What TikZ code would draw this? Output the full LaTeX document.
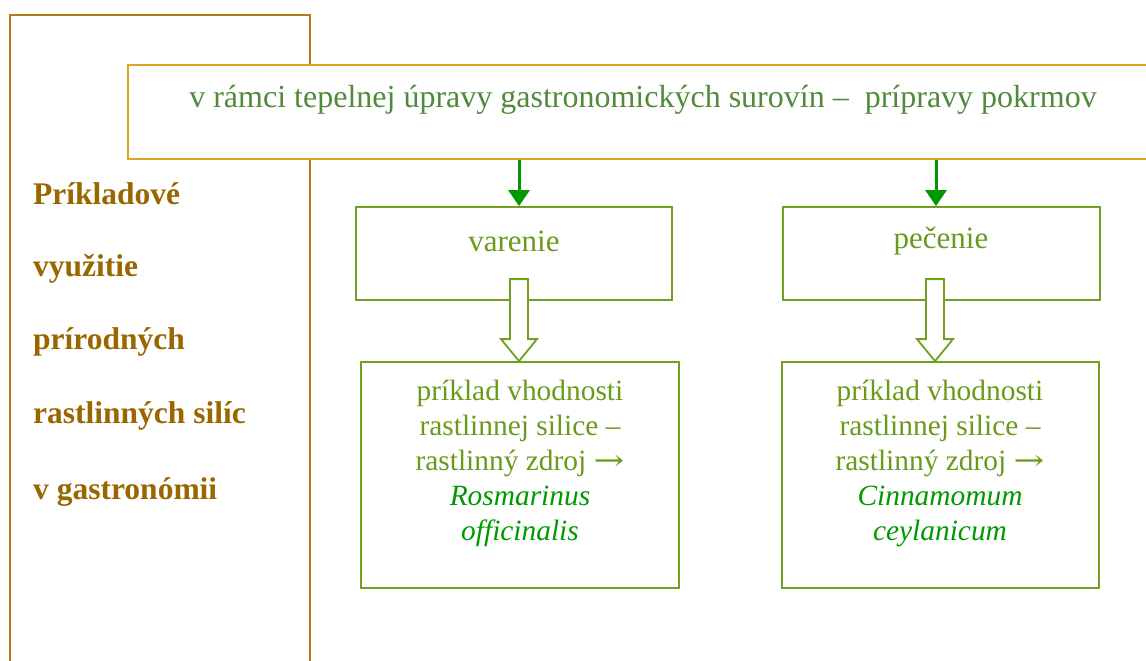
\documentclass[tikz,border=0pt]{standalone}
\usepackage{fontspec}
\usepackage{graphicx}
\setmainfont{Liberation Serif}
\newfontfamily\arrowfont{DejaVu Serif}
\newcommand{\longto}{\scalebox{1.25}[1]{\arrowfont →}}
\usetikzlibrary{calc,arrows.meta}
\definecolor{frameBrown}{RGB}{176,125,30}
\definecolor{titleBrown}{RGB}{153,102,0}
\definecolor{frameGold}{RGB}{218,165,32}
\definecolor{headGreen}{RGB}{80,138,58}
\definecolor{boxGreen}{RGB}{112,160,30}
\definecolor{textGreen}{RGB}{106,154,26}
\definecolor{speciesGreen}{RGB}{0,153,0}
\definecolor{arrowGreen}{RGB}{0,153,0}
\tikzset{
  sideframe/.style={draw=frameBrown, line width=2.2pt, minimum width=300pt, minimum height=655pt, inner sep=0pt},
  topframe/.style={draw=frameGold, line width=2.2pt, minimum width=1030pt, minimum height=94pt, inner sep=0pt},
  stepbox/.style={draw=boxGreen, line width=1.8pt, inner sep=0pt},
  sidetext/.style={anchor=west, text=titleBrown, font=\fontsize{31.5}{36}\selectfont\bfseries, inner sep=0pt},
  headtext/.style={text=headGreen, font=\fontsize{32}{38}\selectfont, inner sep=0pt},
  methodtext/.style={text=textGreen, font=\fontsize{31}{36}\selectfont, inner sep=0pt},
  boxtext/.style={text=textGreen, font=\fontsize{29.4}{35}\selectfont, align=center, inner sep=0pt},
  solidarrow/.style={draw=arrowGreen, line width=3pt, -{Triangle[width=21pt,length=16pt]}},
  hollowarrow/.style={draw=boxGreen, line width=1.8pt, fill=white, line join=miter},
}
\begin{document}
\begin{tikzpicture}[x=1pt,y=-1pt]
\useasboundingbox (0,0) rectangle (1146,661);
% left frame with the heading
\node[sideframe] (side) at (160,342.5) {};
\node[sidetext] (s1) at (33,194) {Príkladové};
\node[sidetext] (s2) at (33,269) {využitie};
\node[sidetext] (s3) at (33,342) {prírodných};
\node[sidetext] (s4) at (33,416) {rastlinných silíc};
\node[sidetext] (s5) at (33,492) {v gastronómii};
% top band
\node[topframe, fill=white] (top) at (643,112) {};
\node[headtext] (toptext) at (643,100) {v rámci tepelnej úpravy gastronomických surovín –~ prípravy pokrmov};
% method boxes
\node[stepbox, minimum width=316pt, minimum height=93pt] (var) at (514,253.5) {};
\node[methodtext] (vartext) at (514,241) {varenie};
\node[stepbox, minimum width=317pt, minimum height=93pt] (pec) at (941.5,253.5) {};
\node[methodtext] (pectext) at (941,241) {pečenie};
% example boxes
\node[stepbox, minimum width=318pt, minimum height=226pt] (ex1) at (520,475) {};
\node[boxtext] (ex1text) at (520,463) {príklad vhodnosti\\rastlinnej silice –\\rastlinný zdroj \longto\\{\color{speciesGreen}\itshape Rosmarinus}\\{\color{speciesGreen}\itshape officinalis}};
\node[stepbox, minimum width=317pt, minimum height=226pt] (ex2) at (940.5,475) {};
\node[boxtext] (ex2text) at (940,463) {príklad vhodnosti\\rastlinnej silice –\\rastlinný zdroj \longto\\{\color{speciesGreen}\itshape Cinnamomum}\\{\color{speciesGreen}\itshape ceylanicum}};
% solid arrows from the band to the methods
\coordinate (a1) at ($(var.north)+(5,0)$);
\coordinate (a2) at ($(pec.north)+(-5.5,0)$);
\draw[solidarrow] (a1 |- top.south) -- (a1);
\draw[solidarrow] (a2 |- top.south) -- (a2);
% hollow block arrows from the methods to the examples
\coordinate (h1) at ($(ex1.north)+(-1,0)$);
\coordinate (h2) at ($(ex2.north)+(-5.5,0)$);
\foreach \h in {h1,h2}{
  \draw[hollowarrow] ($(\h)+(-9,-82)$) -- ($(\h)+(-9,-22)$) -- ($(\h)+(-18,-22)$) -- (\h)
    -- ($(\h)+(18,-22)$) -- ($(\h)+(9,-22)$) -- ($(\h)+(9,-82)$) -- cycle;
}
\end{tikzpicture}
\end{document}
